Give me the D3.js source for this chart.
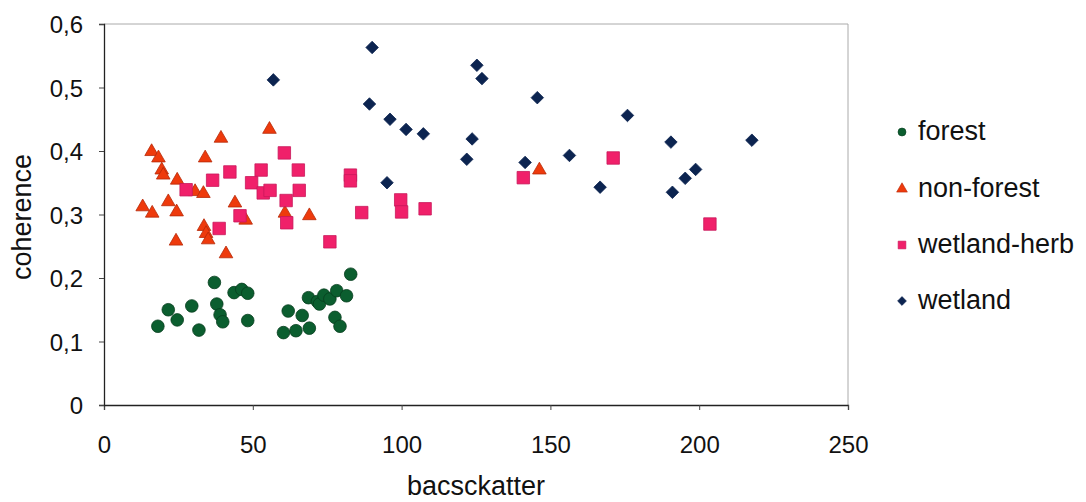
<!DOCTYPE html>
<html><head><meta charset="utf-8">
<script src="https://cdn.jsdelivr.net/npm/d3@7"></script>
<style>
body{margin:0;background:#fff;}
text{font-family:"Liberation Sans",Arial,sans-serif;fill:#111;}
</style></head>
<body><svg id="c" width="1086" height="502"></svg>
<script>
const forestX=[18.1,21.6,24.6,29.5,31.9,37.1,37.9,39.0,39.9,43.7,46.3,48.3,48.3,60.3,61.9,64.5,66.6,69.0,68.7,71.7,72.4,73.9,75.9,78.2,81.5,77.6,79.3,82.9];
const forestY=[0.124,0.150,0.134,0.156,0.118,0.193,0.159,0.142,0.131,0.177,0.182,0.176,0.133,0.114,0.148,0.117,0.141,0.121,0.169,0.163,0.159,0.173,0.167,0.180,0.172,0.138,0.124,0.206];
const nonForestX=[55.6,39.3,16.0,18.3,19.4,19.9,34.0,24.6,30.6,33.4,13.0,16.2,21.6,24.4,44.0,47.6,60.8,69.0,33.6,34.3,35.0,24.2,41.0,146.3];
const nonForestY=[0.434,0.420,0.399,0.389,0.370,0.362,0.389,0.354,0.336,0.333,0.312,0.302,0.320,0.304,0.318,0.291,0.302,0.298,0.281,0.270,0.260,0.258,0.238,0.370];
const herbX=[60.6,42.3,52.8,65.3,36.5,49.6,27.6,53.5,55.8,65.6,61.2,82.8,82.8,45.7,61.4,38.7,75.9,86.6,99.7,100.0,107.9,140.9,171.1,203.6];
const herbY=[0.397,0.367,0.370,0.370,0.354,0.350,0.339,0.334,0.338,0.338,0.322,0.362,0.353,0.298,0.287,0.278,0.257,0.303,0.323,0.304,0.309,0.358,0.389,0.285];
const wetlandX=[90.1,56.9,125.3,127.0,89.2,96.1,101.5,107.3,123.7,121.9,141.5,95.1,145.6,175.9,190.5,217.7,156.4,166.7,198.8,195.3,191.0];
const wetlandY=[0.563,0.512,0.535,0.514,0.474,0.450,0.434,0.427,0.419,0.387,0.382,0.350,0.484,0.456,0.414,0.417,0.393,0.343,0.371,0.357,0.335];
const xTicks=[0,50,100,150,200,250];
const yTicks=[0,0.1,0.2,0.3,0.4,0.5,0.6];
const seriesNames=["forest","non-forest","wetland-herb","wetland"];

const svg=d3.select("#c");
const L=104,R=848,T=24,B=405;
const x=d3.scaleLinear().domain([0,250]).range([L,R]);
const y=d3.scaleLinear().domain([0,0.6]).range([B,T]);

svg.append("path").attr("d",`M${L},${T}H${R}V${B}`).attr("fill","none").attr("stroke","#aaa").attr("stroke-width",1);

const fmt=v=>v===0?"0":d3.format(".1f")(v).replace(".",",");
const gx=svg.append("g").attr("transform",`translate(0,${B})`)
  .call(d3.axisBottom(x).tickValues(xTicks).tickSize(5).tickPadding(26).tickFormat(d3.format("d")));
const gy=svg.append("g").attr("transform",`translate(${L},0)`)
  .call(d3.axisLeft(y).tickValues(yTicks).tickSize(5).tickPadding(16).tickFormat(fmt));
[gx,gy].forEach(g=>{
  g.select(".domain").attr("stroke","#222").attr("stroke-width",1.3);
  g.selectAll(".tick line").attr("stroke","#444");
  g.selectAll(".tick text").attr("font-size",24).attr("fill","#111").attr("font-family","Liberation Sans, Arial, sans-serif");
});
gy.selectAll(".tick text").attr("dy","0.36em");

svg.append("text").attr("x",476).attr("y",495).attr("text-anchor","middle").attr("font-size",27).text("bacsckatter");
svg.append("text").attr("transform","translate(31,217) rotate(-90)").attr("text-anchor","middle").attr("font-size",27).text("coherence");

const styles=[
 {xs:forestX,ys:forestY,type:d3.symbolCircle,size:125,fill:"#0b5e2f",stroke:"#073d1e"},
 {xs:nonForestX,ys:nonForestY,type:d3.symbolTriangle,size:80,fill:"#ee3a0c",stroke:"#b52808"},
 {xs:herbX,ys:herbY,type:d3.symbolSquare,size:155,fill:"#f0206a",stroke:"#c8185a"},
 {xs:wetlandX,ys:wetlandY,type:d3.symbolDiamond2,size:100,fill:"#0c2450",stroke:"#0c2450"}
];
styles.forEach(s=>{
  const sym=d3.symbol().type(s.type).size(s.size);
  svg.append("g").selectAll("path").data(s.xs.map((v,i)=>[v,s.ys[i]])).join("path")
    .attr("transform",d=>`translate(${x(d[0])},${y(d[1])})`)
    .attr("d",sym).attr("fill",s.fill).attr("stroke",s.stroke).attr("stroke-width",0.8);
});

const legY=[132,189,245,301];
const legSizes=[50,50,60,50];
const lg=svg.append("g");
seriesNames.forEach((n,i)=>{
  const s=styles[i];
  lg.append("path").attr("transform",`translate(902,${legY[i]})`)
    .attr("d",d3.symbol().type(s.type).size(legSizes[i])).attr("fill",s.fill).attr("stroke",s.stroke).attr("stroke-width",0.6);
  lg.append("text").attr("x",918).attr("y",legY[i]+8).attr("font-size",27).text(n);
});
</script></body></html>
